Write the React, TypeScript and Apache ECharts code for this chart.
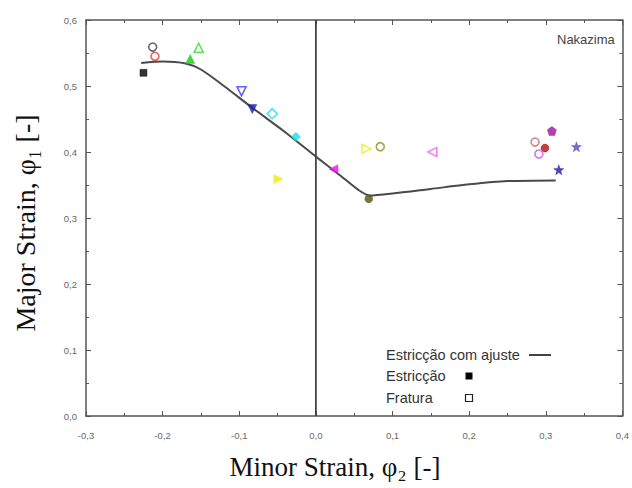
import React, { useEffect, useRef } from "react";
import * as echarts from "echarts";

// ---- data ----
const curveX = [-0.228, -0.2, -0.17, -0.15, -0.12, -0.083, -0.04, 0, 0.03, 0.055, 0.07, 0.1, 0.15, 0.2, 0.25, 0.313];
const curveY = [0.535, 0.537, 0.534, 0.525, 0.5, 0.467, 0.43, 0.393, 0.366, 0.343, 0.334, 0.337, 0.344, 0.351, 0.356, 0.357];

const pointX = [-0.225, -0.213, -0.21, -0.164, -0.153, -0.097, -0.083, -0.057, -0.026, -0.049, 0.023, 0.066, 0.084, 0.069, 0.152, 0.308, 0.286, 0.299, 0.291, 0.34, 0.317];
const pointY = [0.52, 0.559, 0.545, 0.541, 0.558, 0.492, 0.465, 0.458, 0.423, 0.359, 0.374, 0.405, 0.408, 0.329, 0.4, 0.432, 0.415, 0.406, 0.397, 0.408, 0.373];

const xTicks = [-0.3, -0.2, -0.1, 0.0, 0.1, 0.2, 0.3, 0.4];
const yTicks = [0.0, 0.1, 0.2, 0.3, 0.4, 0.5, 0.6];

const legendLabels = ["Estricção com ajuste", "Estricção", "Fratura"];

// ---- styles (per point) ----
const STAR = "path://M0,-10 L2.35,-3.24 L9.51,-3.09 L3.8,1.24 L5.88,8.09 L0,4 L-5.88,8.09 L-3.8,1.24 L-9.51,-3.09 L-2.35,-3.24 Z";
const PENT = "path://M0,-10 L9.51,-3.09 L5.88,8.09 L-5.88,8.09 L-9.51,-3.09 Z";
type PS = { sym: string; rot: number; color: string; filled: boolean; size: number };
const pointStyle: PS[] = [
  { sym: "rect", rot: 0, color: "#000000", filled: true, size: 7 },
  { sym: "circle", rot: 0, color: "#444444", filled: false, size: 8 },
  { sym: "circle", rot: 0, color: "#e83a3a", filled: false, size: 8 },
  { sym: "triangle", rot: 0, color: "#11cc11", filled: true, size: 9 },
  { sym: "triangle", rot: 0, color: "#33dd33", filled: false, size: 9 },
  { sym: "triangle", rot: 180, color: "#3a3aff", filled: false, size: 9 },
  { sym: "triangle", rot: 180, color: "#1a1aa8", filled: true, size: 9 },
  { sym: "diamond", rot: 0, color: "#11dded", filled: false, size: 10 },
  { sym: "diamond", rot: 0, color: "#11dded", filled: true, size: 9 },
  { sym: "triangle", rot: -90, color: "#eeee00", filled: true, size: 9 },
  { sym: "triangle", rot: 90, color: "#ee11ee", filled: true, size: 9 },
  { sym: "triangle", rot: -90, color: "#eeee22", filled: false, size: 9 },
  { sym: "circle", rot: 0, color: "#8f8f22", filled: false, size: 8 },
  { sym: "circle", rot: 0, color: "#55550a", filled: true, size: 8 },
  { sym: "triangle", rot: 90, color: "#ee66ee", filled: false, size: 9 },
  { sym: PENT, rot: 0, color: "#a0109f", filled: true, size: 9 },
  { sym: "circle", rot: 0, color: "#c86a6a", filled: false, size: 8 },
  { sym: "circle", rot: 0, color: "#b01010", filled: true, size: 8 },
  { sym: "circle", rot: 0, color: "#cc55dd", filled: false, size: 8 },
  { sym: STAR, rot: 0, color: "#4a4ad0", filled: true, size: 10 },
  { sym: STAR, rot: 0, color: "#1a1aa8", filled: true, size: 10 },
];

const fmt = (v: number) => v.toFixed(1).replace(".", ",");

export default function App() {
  const ref = useRef<HTMLDivElement>(null);
  useEffect(() => {
    if (!ref.current) return;
    document.body.style.margin = "0";
    const chart = echarts.init(ref.current, null, { renderer: "svg" });
    const axisColor = "#555555";
    const tickFont = { color: "#666666", fontSize: 9.5, fontFamily: "Liberation Sans" };

    const xBase = {
      type: "value" as const,
      min: xTicks[0],
      max: xTicks[xTicks.length - 1],
      interval: 0.1,
      splitLine: { show: false },
      axisLine: { show: true, onZero: false, lineStyle: { color: axisColor, width: 1.5 } },
      axisTick: { show: true, inside: true, length: 5, lineStyle: { color: axisColor } },
      minorTick: { show: true, splitNumber: 2, length: 3, lineStyle: { color: axisColor } },
    };
    const yBase = {
      type: "value" as const,
      min: yTicks[0],
      max: yTicks[yTicks.length - 1],
      interval: 0.1,
      splitLine: { show: false },
      axisLine: { show: true, onZero: false, lineStyle: { color: axisColor, width: 1.5 } },
      axisTick: { show: true, inside: true, length: 5, lineStyle: { color: axisColor } },
      minorTick: { show: true, splitNumber: 2, length: 3, lineStyle: { color: axisColor } },
    };

    const scatterData = pointX.map((x, i) => {
      const s = pointStyle[i];
      return {
        value: [x, pointY[i]],
        symbol: s.sym,
        symbolRotate: s.rot,
        symbolSize: s.size,
        itemStyle: s.filled
          ? { color: s.color, borderColor: s.color, borderWidth: 0.5 }
          : { color: "#ffffff", borderColor: s.color, borderWidth: 1.6 },
      };
    });

    const option: any = {
      animation: false,
      grid: { left: 86, right: 8, top: 20, bottom: 72, containLabel: false },
      xAxis: [
        {
          ...xBase,
          position: "bottom",
          axisLabel: { ...tickFont, margin: 14, formatter: fmt },
        },
        {
          ...xBase,
          position: "top",
          axisLabel: { show: false },
        },
      ],
      yAxis: [
        {
          ...yBase,
          position: "left",
          axisLabel: { ...tickFont, margin: 9, formatter: fmt },
        },
        {
          ...yBase,
          position: "right",
          axisLabel: { show: false },
        },
      ],
      series: [
        {
          type: "line",
          data: [
            [0, yTicks[0]],
            [0, yTicks[yTicks.length - 1]],
          ],
          symbol: "none",
          lineStyle: { color: "#444444", width: 1.8 },
          silent: true,
        },
        {
          type: "line",
          data: curveX.map((x, i) => [x, curveY[i]]),
          smooth: 0.25,
          symbol: "none",
          lineStyle: { color: "#4a4a4a", width: 2 },
          silent: true,
        },
        {
          type: "scatter",
          data: scatterData,
          z: 5,
        },
      ],
      graphic: [
        {
          type: "text",
          x: 557,
          y: 39,
          style: { text: "Nakazima", fontSize: 13, fill: "#444444", fontFamily: "Liberation Sans", verticalAlign: "middle" },
        },
        {
          type: "text",
          x: 335,
          y: 467,
          style: {
            text: "Minor Strain, φ₂ [-]",
            fontSize: 27,
            fill: "#111111",
            fontFamily: "Liberation Serif",
            align: "center",
            verticalAlign: "middle",
          },
        },
        {
          type: "text",
          x: 25,
          y: 223,
          rotation: Math.PI / 2,
          style: {
            text: "Major Strain, φ₁ [-]",
            fontSize: 28,
            fill: "#111111",
            fontFamily: "Liberation Serif",
            align: "center",
            verticalAlign: "middle",
          },
        },
        // legend
        {
          type: "text",
          x: 386,
          y: 355,
          style: { text: legendLabels[0], fontSize: 14.5, fill: "#333333", fontFamily: "Liberation Sans", verticalAlign: "middle" },
        },
        {
          type: "line",
          shape: { x1: 529, y1: 355, x2: 551, y2: 355 },
          style: { stroke: "#444444", lineWidth: 2 },
        },
        {
          type: "text",
          x: 386,
          y: 376,
          style: { text: legendLabels[1], fontSize: 14.5, fill: "#333333", fontFamily: "Liberation Sans", verticalAlign: "middle" },
        },
        {
          type: "rect",
          shape: { x: 465.5, y: 372.5, width: 7, height: 7 },
          style: { fill: "#000000" },
        },
        {
          type: "text",
          x: 386,
          y: 398,
          style: { text: legendLabels[2], fontSize: 14.5, fill: "#333333", fontFamily: "Liberation Sans", verticalAlign: "middle" },
        },
        {
          type: "rect",
          shape: { x: 465.5, y: 394.5, width: 7, height: 7 },
          style: { fill: "#ffffff", stroke: "#222222", lineWidth: 1.2 },
        },
      ],
    };
    chart.setOption(option);
    return () => chart.dispose();
  }, []);
  return <div ref={ref} style={{ width: 632, height: 488 }} />;
}
